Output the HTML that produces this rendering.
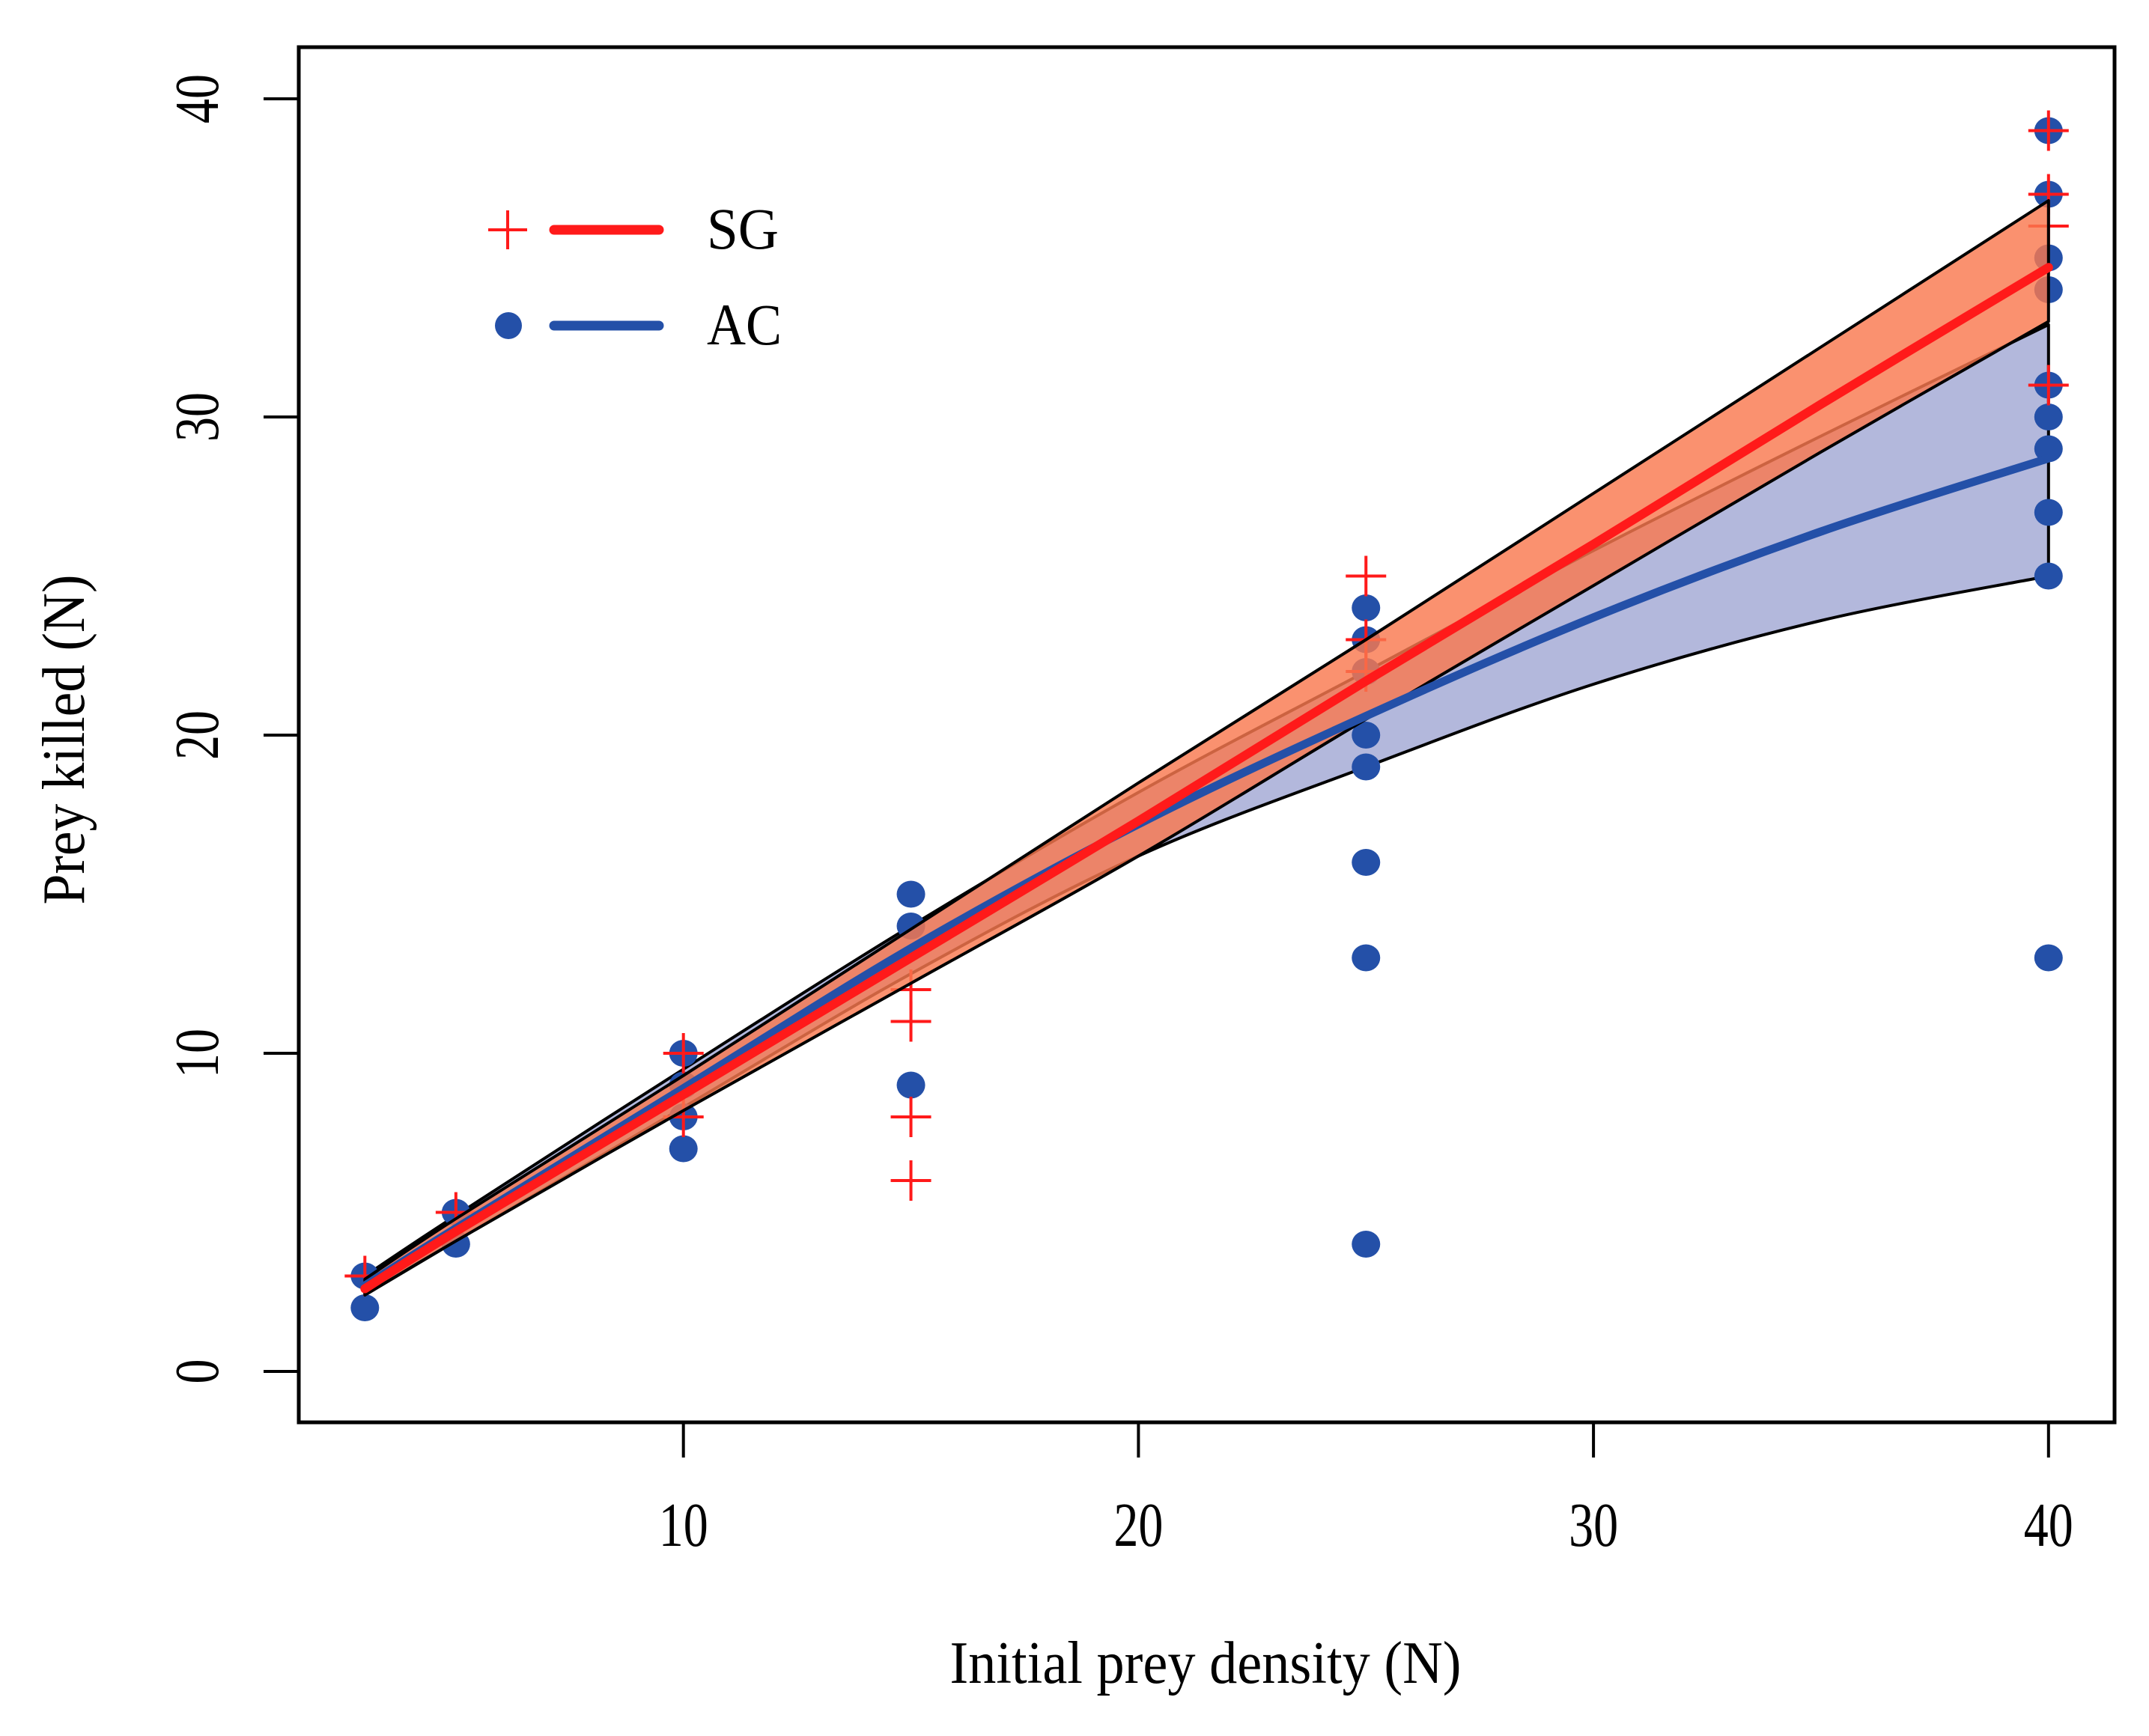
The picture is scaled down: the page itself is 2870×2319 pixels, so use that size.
<!DOCTYPE html>
<html><head><meta charset="utf-8"><style>
html,body{margin:0;padding:0;background:#fff;}
svg{display:block;font-family:"Liberation Serif",serif;}
</style></head><body>
<svg id="chart" width="2870" height="2319" viewBox="0 0 2870 2319" xmlns="http://www.w3.org/2000/svg">
<rect x="0" y="0" width="2870" height="2319" fill="#fff"/>
<g id="bands"></g>
<g id="pts-ac"></g>
<g id="pts-sg"></g>
<g id="bands2"></g>
<g id="lines"></g>
<rect x="399" y="63" width="2425" height="1837" fill="none" stroke="#000" stroke-width="5"/>
<g id="axes"></g>
<text x="1610" y="2248" font-size="80" text-anchor="middle" textLength="683" lengthAdjust="spacingAndGlyphs">Initial prey density (N)</text>
<text transform="translate(112,988) rotate(-90)" font-size="80" text-anchor="middle" textLength="441" lengthAdjust="spacingAndGlyphs">Prey killed (N)</text>
<g>
  <g>
    <line x1="652" y1="307" x2="704" y2="307" stroke="#ff1a1a" stroke-width="4"/>
    <line x1="678" y1="281" x2="678" y2="333" stroke="#ff1a1a" stroke-width="4"/>
    <line x1="740" y1="307" x2="880" y2="307" stroke="#ff1a1a" stroke-width="13" stroke-linecap="round"/>
    <text x="944" y="332" font-size="78" textLength="96" lengthAdjust="spacingAndGlyphs">SG</text>
  </g>
  <g>
    <ellipse cx="679" cy="435" rx="18" ry="18" fill="#2450a8"/>
    <line x1="740" y1="435" x2="880" y2="435" stroke="#2450a8" stroke-width="13" stroke-linecap="round"/>
    <text x="944" y="460" font-size="78" textLength="100" lengthAdjust="spacingAndGlyphs">AC</text>
  </g>
</g>
</svg>
<script>
const xTicks=[10,20,30,40];
const yTicks=[0,10,20,30,40];
const acX=[3,3,5,5,10,10,10,10,15,15,15,25,25,25,25,25,25,25,25,40,40,40,40,40,40,40,40,40,40];
const acY=[3,2,5,4,10,9,8,7,15,14,9,24,23,22,20,19,16,13,4,39,37,35,34,31,30,29,27,25,13];
const sgX=[3,5,10,10,15,15,15,15,25,25,25,40,40,40,40];
const sgY=[3,5,10,8,12,11,8,6,25,23,22,39,37,36,31];
const fitX=[3,5,10,15,20,25,30,35,40];
const sgFit=[2.6,4.4,8.7,13.0,17.3,21.7,26.0,30.4,34.7];
const sgUpper=[2.9,4.8,9.3,13.9,18.5,23.0,27.6,32.2,36.8];
const sgLower=[2.4,4.1,8.2,12.2,16.2,20.5,24.7,28.9,33.0];
const acFit=[2.7,4.5,8.9,13.3,17.2,20.6,23.7,26.4,28.7];
const acUpper=[3.0,4.9,9.5,14.0,18.2,22.0,25.8,29.4,32.9];
const acLower=[2.4,4.1,8.3,12.5,16.2,19.0,21.6,23.6,25.0];

const NS='http://www.w3.org/2000/svg';
function X(v){return 305+(v-0)*60.77;}
function Y(v){return 1832-v*42.5;}
function mk(tag,attrs,parent){const e=document.createElementNS(NS,tag);for(const k in attrs)e.setAttribute(k,attrs[k]);parent.appendChild(e);return e;}
const axes=document.getElementById('axes');
xTicks.forEach(t=>{
  const g=mk('g',{},axes);
  
  
  mk('line',{x1:X(t),y1:1900,x2:X(t),y2:1947,stroke:'#000','stroke-width':4},g);
  const tx=mk('text',{x:X(t),y:2065,'font-size':84,'text-anchor':'middle',textLength:66,lengthAdjust:'spacingAndGlyphs'},g);
  tx.textContent=String(t);
});
yTicks.forEach(t=>{
  const g=mk('g',{},axes);
  
  
  mk('line',{x1:352,y1:Y(t),x2:399,y2:Y(t),stroke:'#000','stroke-width':4},g);
  const len=String(t).length===1?33:66;
  const tx=mk('text',{transform:'translate(291,'+Y(t)+') rotate(-90)','font-size':84,'text-anchor':'middle',textLength:len,lengthAdjust:'spacingAndGlyphs'},g);
  tx.textContent=String(t);
});
function pts(arr){return fitX.map((x,i)=>[X(x),Y(arr[i])]);}
function smooth(p,start){
  let d=(start?'M':'L')+p[0][0]+','+p[0][1];
  for(let i=0;i<p.length-1;i++){
    const p0=p[Math.max(0,i-1)],p1=p[i],p2=p[i+1],p3=p[Math.min(p.length-1,i+2)];
    const c1=[p1[0]+(p2[0]-p0[0])/6,p1[1]+(p2[1]-p0[1])/6];
    const c2=[p2[0]-(p3[0]-p1[0])/6,p2[1]-(p3[1]-p1[1])/6];
    d+=' C'+c1[0]+','+c1[1]+' '+c2[0]+','+c2[1]+' '+p2[0]+','+p2[1];
  }
  return d;
}
function bandPath(up,lo){
  return smooth(pts(up),true)+' '+smooth(pts(lo).reverse(),false)+' Z';
}
function linePath(arr){return smooth(pts(arr),true);}
const bands=document.getElementById('bands');
const acBand=mk('path',{d:bandPath(acUpper,acLower),fill:'#b3b8dc',stroke:'#000','stroke-width':4,'stroke-linejoin':'round'},bands);


const pac=document.getElementById('pts-ac');
acX.forEach((x,i)=>{
  const c=mk('ellipse',{cx:X(x),cy:Y(acY[i]),rx:19,ry:18,fill:'#2450a8'},pac);
  
  
});
const psg=document.getElementById('pts-sg');
sgX.forEach((x,i)=>{
  const g=mk('g',{},psg);
  
  
  mk('line',{x1:X(x)-27,y1:Y(sgY[i]),x2:X(x)+27,y2:Y(sgY[i]),stroke:'#ff1a1a','stroke-width':4},g);
  mk('line',{x1:X(x),y1:Y(sgY[i])-27,x2:X(x),y2:Y(sgY[i])+27,stroke:'#ff1a1a','stroke-width':4},g);
});
const b2=document.getElementById('bands2');
const sgBand=mk('path',{d:bandPath(sgUpper,sgLower),fill:'#f9794f','fill-opacity':0.82,stroke:'#000','stroke-width':4,'stroke-linejoin':'round'},b2);


const lines=document.getElementById('lines');
const acL=mk('path',{d:linePath(acFit),fill:'none',stroke:'#2450a8','stroke-width':11,'stroke-linecap':'round'},lines);


const sgL=mk('path',{d:linePath(sgFit),fill:'none',stroke:'#ff1a1a','stroke-width':12,'stroke-linecap':'round'},lines);


</script>
</body></html>
